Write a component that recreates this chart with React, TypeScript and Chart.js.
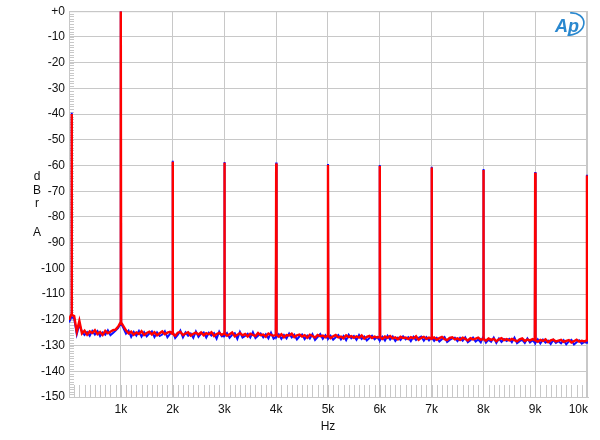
import React, { useEffect, useRef } from "react";
import { Chart, registerables } from "chart.js";

Chart.register(...registerables);

// Noise floor samples, one every 50 Hz starting at 0 Hz (dBrA)
const STEP_HZ = 50;
const redNoise = [
  -120.0, -118.0, -118.5, -124.6, -120.4, -125.3, -124.2, -125.8, -124.5, -125.1,
  -124.0, -125.6, -124.7, -125.9, -124.3, -125.2, -124.6, -124.0, -123.8, -122.6,
  -121.0, -122.4, -124.1, -125.3, -124.6, -125.8, -124.9, -125.5, -124.4, -125.9,
  -125.1, -124.6, -125.7, -124.8, -126.0, -125.2, -124.5, -125.6, -125.0, -124.7,
  -125.4, -126.2, -125.0, -124.7, -125.9, -125.3, -124.8, -126.1, -125.4, -125.0,
  -125.7, -124.9, -126.0, -125.2, -125.6, -124.8, -126.3, -125.5, -125.1, -125.9,
  -125.3, -126.2, -125.6, -124.9, -126.4, -125.8, -125.2, -126.0, -125.5, -126.5,
  -125.4, -125.9, -126.3, -125.1, -126.0, -125.7, -126.6, -125.3, -125.9, -126.2,
  -125.8, -126.5, -125.6, -126.8, -125.9, -126.1, -125.4, -126.7, -126.0, -125.7,
  -126.5, -126.0, -127.0, -125.8, -126.3, -126.9, -125.9, -126.4, -126.1, -126.8,
  -126.2, -127.1, -126.4, -125.9, -126.8, -126.5, -127.2, -126.0, -126.7, -126.3,
  -127.0, -126.4, -126.9, -126.1, -127.3, -126.6, -126.2, -127.1, -126.5, -126.9,
  -126.7, -127.4, -126.5, -127.0, -126.3, -127.2, -126.8, -127.6, -126.6, -127.1,
  -126.9, -127.5, -126.7, -127.2, -126.4, -127.8, -127.0, -126.6, -127.4, -126.9,
  -127.3, -126.8, -127.7, -127.1, -126.6, -127.5, -127.9, -127.0, -126.8, -127.6,
  -127.2, -127.8, -126.9, -127.4, -128.0, -127.1, -127.6, -127.3, -126.9, -127.7,
  -127.5, -128.1, -127.2, -127.8, -127.4, -128.3, -127.6, -127.1, -127.9, -127.5,
  -128.0, -127.4, -127.9, -128.4, -127.6, -127.2, -128.2, -127.7, -128.0, -127.5,
  -127.9, -128.5, -127.8, -128.2, -127.6, -128.7, -128.0, -127.7, -128.4, -128.1,
  -127.8, -128.6, -128.2, -127.9, -128.8, -128.3, -127.7, -128.5, -128.1, -128.4,
  -128.0,
];
const blueNoise = [
  -121.0, -119.0, -119.5, -125.6, -121.8, -124.6, -125.9, -124.8, -126.2, -124.3,
  -125.7, -124.4, -126.3, -124.9, -125.8, -124.1, -126.0, -125.1, -124.2, -123.1,
  -121.5, -123.2, -125.4, -124.2, -126.6, -124.7, -126.1, -124.3, -126.5, -124.8,
  -126.4, -125.3, -124.5, -126.7, -124.9, -126.3, -125.7, -124.4, -126.8, -125.5,
  -124.6, -127.1, -125.9, -124.2, -126.8, -124.9, -126.2, -125.3, -127.0, -124.5,
  -126.6, -125.4, -124.9, -126.9, -125.0, -126.1, -125.2, -127.3, -124.6, -126.4,
  -126.2, -125.1, -127.0, -125.8, -125.2, -127.4, -124.7, -126.9, -126.3, -125.4,
  -126.9, -124.8, -127.1, -126.2, -125.3, -126.8, -125.6, -127.2, -125.0, -127.3,
  -126.7, -125.6, -127.4, -125.9, -127.2, -125.3, -126.8, -125.8, -127.6, -126.4,
  -125.7, -127.5, -126.1, -127.3, -125.6, -127.8, -126.7, -125.5, -127.4, -126.0,
  -127.3, -126.2, -127.7, -126.8, -125.9, -127.6, -126.3, -127.9, -125.8, -127.2,
  -126.3, -127.8, -125.9, -127.4, -126.5, -128.0, -127.1, -126.2, -127.6, -126.7,
  -127.9, -126.6, -128.1, -126.2, -127.7, -126.5, -128.2, -126.9, -127.8, -126.4,
  -127.6, -126.8, -128.3, -126.6, -127.9, -127.0, -126.5, -128.1, -126.7, -128.0,
  -126.9, -128.2, -127.0, -128.4, -127.5, -126.7, -128.6, -127.8, -127.2, -126.9,
  -128.3, -127.0, -128.1, -126.8, -128.7, -127.9, -126.9, -128.4, -127.6, -128.8,
  -126.8, -128.9, -127.7, -128.5, -126.9, -129.0, -127.3, -128.6, -127.5, -128.2,
  -127.4, -128.7, -126.9, -129.1, -128.3, -127.8, -129.0, -127.2, -128.8, -127.9,
  -128.9, -127.6, -129.2, -127.7, -128.9, -128.1, -129.4, -127.8, -129.0, -128.3,
  -129.1, -127.9, -129.5, -128.4, -127.8, -129.6, -128.7, -128.0, -129.3, -128.6,
  -128.9,
];

// Discrete spectral lines (Hz) and their levels (dBrA)
const peakHz = [50, 1000, 2000, 3000, 4000, 5000, 6000, 7000, 8000, 9000, 10000];
const redPeaks = [-40.0, 0.0, -58.5, -58.9, -59.2, -59.8, -60.2, -60.8, -61.7, -62.8, -63.9];
const bluePeaks = [-39.5, 0.0, -58.1, -58.6, -58.8, -59.4, -59.8, -60.5, -61.4, -62.5, -63.6];

const xTickValues = [1000, 2000, 3000, 4000, 5000, 6000, 7000, 8000, 9000, 10000];
const xTickLabels = ["1k", "2k", "3k", "4k", "5k", "6k", "7k", "8k", "9k", "10k"];
const yTickValues = [0, -10, -20, -30, -40, -50, -60, -70, -80, -90, -100, -110, -120, -130, -140, -150];
const yTickLabels = ["+0", "-10", "-20", "-30", "-40", "-50", "-60", "-70", "-80", "-90", "-100", "-110", "-120", "-130", "-140", "-150"];

const X_MIN = 0;
const X_MAX = 10020;
const FONT = "Arial, 'Liberation Sans', Helvetica, sans-serif";
const GRID = "#c8c8c8";

function buildSeries(noise: number[], peaks: number[]) {
  const pts: { x: number; y: number }[] = [];
  noise.forEach((v, i) => {
    const hz = i * STEP_HZ;
    const h = peakHz.indexOf(hz);
    if (h >= 0) {
      pts.push({ x: hz - 7, y: v }, { x: hz, y: peaks[h] }, { x: hz + 7, y: v });
    } else {
      pts.push({ x: hz, y: v });
    }
  });
  return pts;
}

const decor = {
  id: "decor",
  beforeDatasetsDraw(chart: any) {
    const { ctx, chartArea: a, scales } = chart;
    const x = scales.x;
    const y = scales.y;
    ctx.save();
    ctx.strokeStyle = GRID;
    ctx.lineWidth = 1;
    ctx.beginPath();
    for (let v = 0; v >= -150; v -= 1) {
      const py = Math.round(y.getPixelForValue(v)) + 0.5;
      ctx.moveTo(a.left, py);
      ctx.lineTo(a.left + 5, py);
    }
    for (let v = 100; v < X_MAX; v += 100) {
      const px = Math.round(x.getPixelForValue(v)) + 0.5;
      ctx.moveTo(px, a.bottom);
      ctx.lineTo(px, a.bottom - 12);
    }
    ctx.stroke();
    ctx.strokeRect(a.left + 0.5, a.top + 0.5, a.right - a.left - 1, a.bottom - a.top);
    ctx.restore();
  },
  afterDraw(chart: any) {
    const { ctx, chartArea: a, scales } = chart;
    const x = scales.x;
    ctx.save();
    ctx.fillStyle = "#111";
    ctx.font = `12px ${FONT}`;
    ctx.textBaseline = "middle";
    xTickValues.forEach((v, i) => {
      const px = x.getPixelForValue(v);
      const w = ctx.measureText(xTickLabels[i]).width;
      let left = px - w / 2;
      if (left + w > a.right) left = a.right - w;
      ctx.textAlign = "left";
      ctx.fillText(xTickLabels[i], left, 410);
    });
    ctx.textAlign = "center";
    ctx.fillText("Hz", 328, 427);
    // vertical unit label
    ctx.fillText("d", 37, 177);
    ctx.fillText("B", 37, 191);
    ctx.fillText("r", 37, 204);
    ctx.fillText("A", 37, 233);
    // Ap logo
    ctx.fillStyle = "#2a88cf";
    ctx.strokeStyle = "#2a88cf";
    ctx.font = `italic bold 18px ${FONT}`;
    ctx.textAlign = "left";
    ctx.textBaseline = "alphabetic";
    ctx.fillText("Ap", 555, 32);
    ctx.lineWidth = 1.6;
    ctx.beginPath();
    ctx.ellipse(570, 24, 14, 11, -0.2, -1.4, 1.9);
    ctx.stroke();
    ctx.restore();
  },
};

export default function App() {
  const ref = useRef<HTMLCanvasElement | null>(null);
  useEffect(() => {
    if (!ref.current) return;
    const chart = new Chart(ref.current, {
      type: "line",
      data: {
        datasets: [
          {
            label: "Red",
            data: buildSeries(redNoise, redPeaks),
            borderColor: "#ff0000",
            borderWidth: 2.4,
            pointRadius: 0,
            tension: 0,
            order: 0,
          },
          {
            label: "Blue",
            data: buildSeries(blueNoise, bluePeaks),
            borderColor: "#1010ff",
            borderWidth: 2,
            pointRadius: 0,
            tension: 0,
            order: 1,
          },
        ],
      },
      options: {
        responsive: false,
        animation: false,
        parsing: false,
        normalized: true,
        layout: { padding: { left: 0, right: 12, top: 11, bottom: 0 } },
        plugins: { legend: { display: false }, tooltip: { enabled: false }, title: { display: false } },
        scales: {
          x: {
            type: "linear",
            min: X_MIN,
            max: X_MAX,
            afterBuildTicks: (s: any) => {
              s.ticks = xTickValues.map((v) => ({ value: v }));
            },
            afterFit: (s: any) => {
              s.height = 43;
            },
            ticks: { display: false },
            grid: { color: GRID, lineWidth: 1, drawTicks: false },
            border: { display: true, color: GRID },
          },
          y: {
            type: "linear",
            min: -150,
            max: 0,
            afterBuildTicks: (s: any) => {
              s.ticks = yTickValues.map((v) => ({ value: v }));
            },
            afterFit: (s: any) => {
              s.width = 69;
            },
            ticks: {
              padding: 4,
              color: "#111",
              font: { family: FONT, size: 12 },
              callback: (v: any) => {
                const i = yTickValues.indexOf(Number(v));
                return i >= 0 ? yTickLabels[i] : "";
              },
            },
            grid: { color: GRID, lineWidth: 1, drawTicks: false },
            border: { display: true, color: GRID },
          },
        },
      },
      plugins: [decor],
    } as any);
    return () => chart.destroy();
  }, []);
  return (
    <div style={{ position: "absolute", left: 0, top: 0, width: 600, height: 440, background: "#fff" }}>
      <canvas ref={ref} width={600} height={440} />
    </div>
  );
}
